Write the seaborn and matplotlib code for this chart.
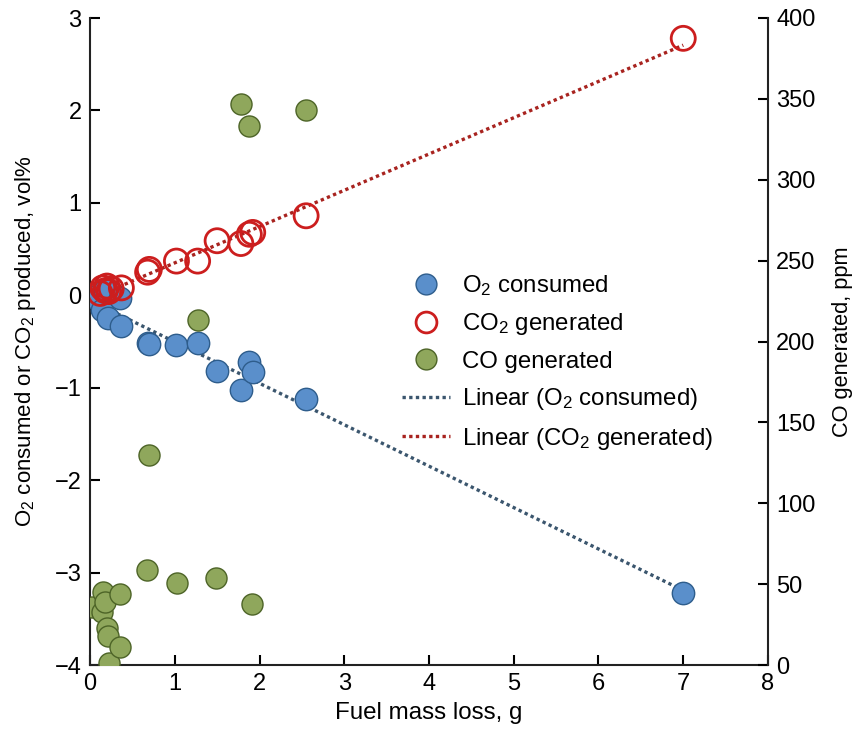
import matplotlib
matplotlib.use("Agg")
import matplotlib.pyplot as plt
import seaborn as sns
import numpy as np
import pandas as pd
from matplotlib.lines import Line2D

# ---- data ----
x_o2 = [0.04, 0.14, 0.18, 0.21, 0.35, 0.37, 0.68, 0.70, 1.02, 1.27, 1.50, 1.78, 1.88, 1.92, 2.55, 7.00]
o2 = [-0.02, -0.16, 0.06, -0.25, -0.03, -0.33, -0.52, -0.53, -0.54, -0.52, -0.82, -1.02, -0.72, -0.83, -1.12, -3.22]

x_co2 = [0.12, 0.15, 0.18, 0.20, 0.22, 0.25, 0.37, 0.68, 0.70, 1.02, 1.27, 1.50, 1.78, 1.88, 1.92, 2.55, 7.00]
co2 = [0.02, 0.08, 0.05, 0.10, 0.04, 0.07, 0.08, 0.25, 0.28, 0.37, 0.37, 0.59, 0.56, 0.66, 0.68, 0.86, 2.78]

x_co = [0.02, 0.14, 0.15, 0.18, 0.20, 0.21, 0.22, 0.35, 0.35, 0.67, 0.70, 1.03, 1.27, 1.49, 1.78, 1.88, 1.91, 2.55]
co = [36, 33, 45, 39, 23, 18, 1, 44, 11, 59, 130, 51, 213, 54, 347, 333, 38, 343]

x_ticks = [0, 1, 2, 3, 4, 5, 6, 7, 8]
left_ticks = [-4, -3, -2, -1, 0, 1, 2, 3]
right_ticks = [0, 50, 100, 150, 200, 250, 300, 350, 400]

labels = ["O$_2$ consumed", "CO$_2$ generated", "CO generated",
          "Linear (O$_2$ consumed)", "Linear (CO$_2$ generated)"]

df_o2 = pd.DataFrame({"x": x_o2, "y": o2})
df_co2 = pd.DataFrame({"x": x_co2, "y": co2})
df_co = pd.DataFrame({"x": x_co, "y": co})

# ---- style ----
sns.set_style("ticks", {"axes.edgecolor": "black", "xtick.color": "black",
                        "ytick.color": "black", "text.color": "black",
                        "axes.labelcolor": "black"})
plt.rcParams["font.family"] = ["Liberation Sans", "DejaVu Sans"]
plt.rcParams["mathtext.fontset"] = "custom"
plt.rcParams["mathtext.rm"] = "Liberation Sans"
plt.rcParams["mathtext.it"] = "Liberation Sans:italic"
TICK_FS = 17
XLAB_FS = 17.4
YLAB_FS = 16
RLAB_FS = 15.7
LEG_FS = 17.3

fig = plt.figure(figsize=(8.54, 7.34), dpi=100)
ax = fig.add_axes([90 / 854, 1 - 665 / 734, (768 - 90) / 854, (665 - 18) / 734])
ax2 = ax.twinx()

blue_face = "#5a8fcb"
blue_edge = "#2e5d8c"
red = "#cc1e1e"
green_face = "#8fa75c"
green_edge = "#4d6427"
trend_blue = "#3b566e"
trend_red = "#a8231f"

# trend lines (fitted by seaborn from the data)
sns.regplot(data=df_o2, x="x", y="y", ax=ax, scatter=False, ci=None, truncate=True,
            line_kws=dict(color=trend_blue, ls=(0, (1, 1)), lw=2.4, zorder=2))
sns.regplot(data=df_co2, x="x", y="y", ax=ax, scatter=False, ci=None, truncate=True,
            line_kws=dict(color=trend_red, ls=(0, (1, 1)), lw=2.4, zorder=2))

sns.scatterplot(data=df_o2, x="x", y="y", ax=ax, s=260, color=blue_face,
                edgecolor=blue_edge, linewidth=1.0, zorder=3)
sns.scatterplot(data=df_co2, x="x", y="y", ax=ax, s=300, facecolor="none",
                edgecolor=red, linewidth=2.0, zorder=4)
sns.scatterplot(data=df_co, x="x", y="y", ax=ax2, s=230, color=green_face,
                edgecolor=green_edge, linewidth=1.0, zorder=3)

ax.set_xlim(0, 8)
ax.set_ylim(-4, 3)
ax2.set_ylim(0, 400)
ax.set_xticks(x_ticks)
ax.set_yticks(left_ticks)
ax2.set_yticks(right_ticks)

ax.set_xlabel("Fuel mass loss, g", fontsize=XLAB_FS, labelpad=5)
ax.set_ylabel("O$_2$ consumed or CO$_2$ produced, vol%", fontsize=YLAB_FS, labelpad=12)
ax2.set_ylabel("CO generated, ppm", fontsize=RLAB_FS, labelpad=12, rotation=90)

for a in (ax, ax2):
    a.tick_params(direction="in", length=7, width=1.5, labelsize=TICK_FS, pad=6,
                  colors="black")
    a.spines["top"].set_visible(False)
    for s in a.spines.values():
        s.set_linewidth(1.5)
        s.set_color("#222222")
ax.spines["right"].set_visible(False)
ax2.spines["left"].set_visible(False)
ax2.spines["bottom"].set_visible(False)

# legend
handles = [
    Line2D([], [], ls="none", marker="o", markersize=15, markerfacecolor=blue_face,
           markeredgecolor=blue_edge),
    Line2D([], [], ls="none", marker="o", markersize=15, markerfacecolor="none",
           markeredgecolor=red, markeredgewidth=2),
    Line2D([], [], ls="none", marker="o", markersize=15, markerfacecolor=green_face,
           markeredgecolor=green_edge),
    Line2D([], [], color=trend_blue, ls=(0, (1, 1)), lw=2.4),
    Line2D([], [], color=trend_red, ls=(0, (1, 1)), lw=2.4),
]
ax2.legend(handles, labels, loc="upper left", bbox_to_anchor=(402 / 854, 1 - 273 / 734),
           bbox_transform=fig.transFigure, frameon=False, fontsize=LEG_FS,
           handlelength=2.0, handletextpad=0.5, labelspacing=0.56, borderaxespad=0,
           borderpad=0)

fig.savefig("out.png", dpi=100)
